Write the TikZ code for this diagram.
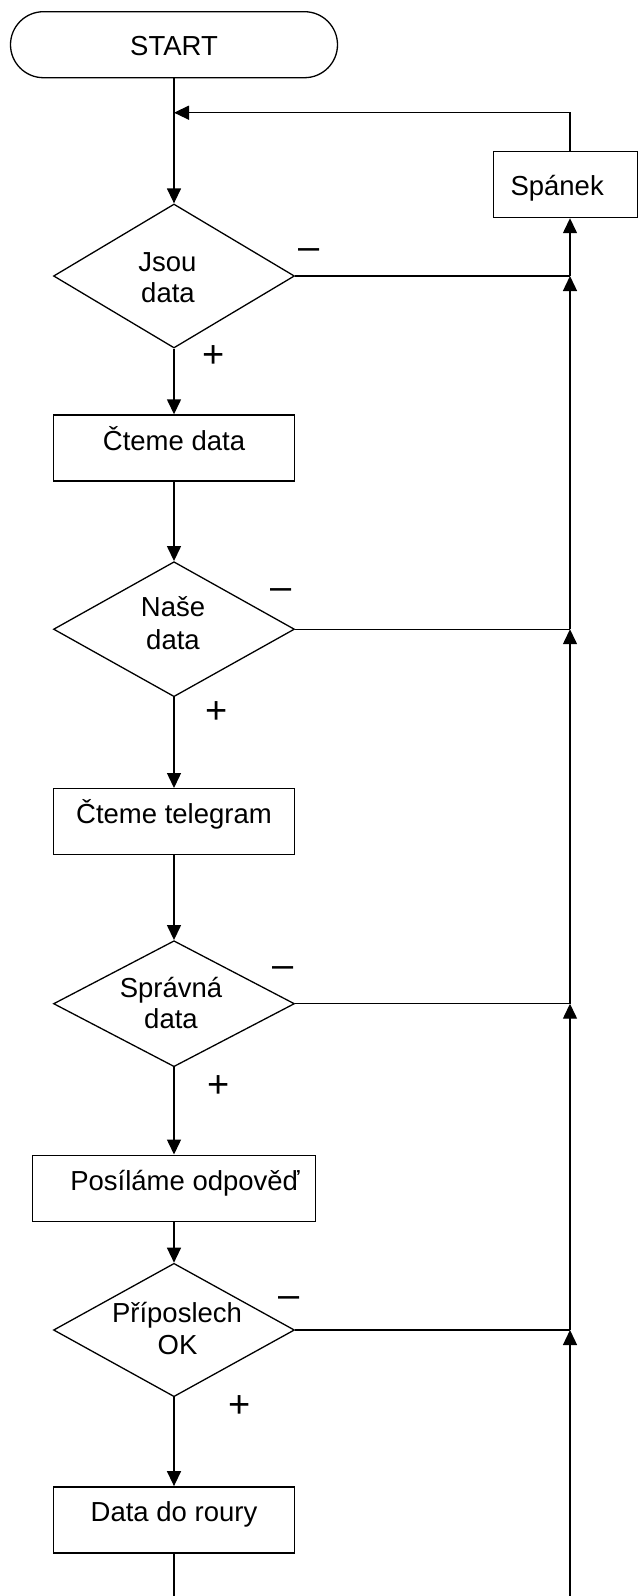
\documentclass[tikz,border=0pt]{standalone}
\usepackage{fontspec}
\setmainfont{Liberation Sans}
\usetikzlibrary{arrows.meta,shapes.geometric}

\begin{document}
\begin{tikzpicture}[x=1pt,y=-1pt,
  every node/.style={font=\fontsize{27.5}{31}\selectfont},
  line/.style={line width=1.4pt},
  flow/.style={line width=1.4pt, -{Triangle[length=15pt,width=14pt]}},
  terminal/.style={draw, line width=1.3pt, rounded corners=33pt,
    minimum width=327pt, minimum height=66pt, inner sep=0pt,
    text height=20.6pt, text depth=0pt},
  procbox/.style={draw, line width=1.4pt, minimum width=241pt,
    minimum height=66pt, inner sep=0pt, text height=12pt, text depth=8pt},
  decision/.style={draw, diamond, line width=1.3pt, minimum width=241pt,
    inner sep=0pt},
  dtext/.style={anchor=base, inner sep=0pt},
  sign/.style={anchor=base, inner sep=0pt, font=\fontsize{38}{40}\selectfont}
]
% canvas
\fill[white] (0,0) rectangle (638,1596);
\useasboundingbox (0,0) rectangle (638,1596);

% helper points: the return bus on the right and the loop entry
\coordinate (bus) at (570,0);
\coordinate (join) at (174,112.7);
\coordinate (botL) at (174,1596);
\coordinate (botR) at (570,1596);

% shapes
\node[terminal] (start) at (174,44.7) {START};
\node[procbox, minimum width=144pt, text width=110pt, inner xsep=17pt,
      align=left, text height=21pt, text depth=0pt] (spanek) at (565.5,184.5) {Spánek};

\node[decision, minimum height=144pt] (d1) at (174,276) {};
\node[dtext] (d1a) at (167.5,271) {Jsou};
\node[dtext] (d1b) at (168,302) {data};

\node[procbox] (read) at (174,448) {Čteme data};

\node[decision, minimum height=135pt] (d2) at (174,629.2) {};
\node[dtext] (d2a) at (173,616) {Naše};
\node[dtext] (d2b) at (173,649) {data};

\node[procbox] (tele) at (174,821.7) {Čteme telegram};

\node[decision, minimum height=126pt] (d3) at (174,1003.7) {};
\node[dtext] (d3a) at (171,997) {Správná};
\node[dtext] (d3b) at (171,1028) {data};

\node[procbox, minimum width=283pt] (send) at (174,1188.2) {\hspace*{22pt}Posíláme odpověď};

\node[decision, minimum height=133.4pt] (d4) at (174,1330) {};
\node[dtext] (d4a) at (177,1322) {Příposlech};
\node[dtext] (d4b) at (177.5,1354) {OK};

\node[procbox] (pipe) at (174,1519.8) {Data do roury};

% branch signs
\node[sign] (m1) at (309,259.6) {–};
\node[sign] (p1) at (213.5,367.4) {+};
\node[sign] (m2) at (280.7,599.6) {–};
\node[sign] (p2) at (216.7,723.4) {+};
\node[sign] (m3) at (283.2,977) {–};
\node[sign] (p3) at (218.7,1097.4) {+};
\node[sign] (m4) at (289.5,1307.6) {–};
\node[sign] (p4) at (239.5,1417.4) {+};

% main flow
\draw[flow] (start.south) -- (d1.north);
\draw[flow] (d1.south) -- (read.north);
\draw[flow] (read.south) -- (d2.north);
\draw[flow] (d2.south) -- (tele.north);
\draw[flow] (tele.south) -- (d3.north);
\draw[flow] (d3.south) -- (send.north);
\draw[flow] (send.south) -- (d4.north);
\draw[flow] (d4.south) -- (pipe.north);
\draw[line] (pipe.south) -- (botL);

% negative branches to the return bus
\draw[line] (d1.east) -- (d1.east -| bus) coordinate (j1);
\draw[line] (d2.east) -- (d2.east -| bus) coordinate (j2);
\draw[line] (d3.east) -- (d3.east -| bus) coordinate (j3);
\draw[line] (d4.east) -- (d4.east -| bus) coordinate (j4);

\draw[flow] (botR) -- (j4);
\draw[flow] (j4) -- (j3);
\draw[flow] (j3) -- (j2);
\draw[flow] (j2) -- (j1);
\draw[flow] (j1) -- (spanek.south -| bus);

% loop back after sleeping
\draw[flow] (spanek.north -| bus) |- (join);
\end{tikzpicture}
\end{document}
